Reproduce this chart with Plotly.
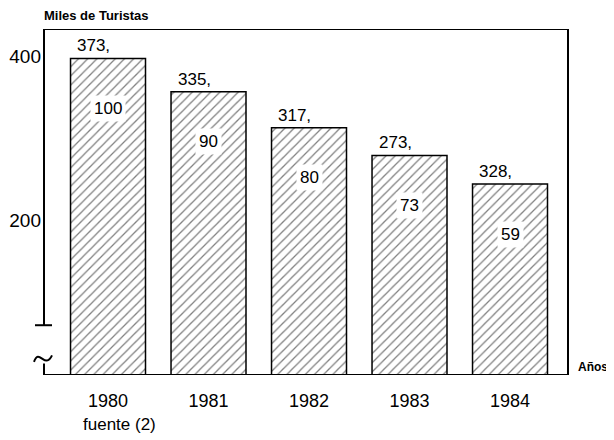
import plotly.graph_objects as go

# data
years = ["1980", "1981", "1982", "1983", "1984"]
bar_values = [398, 357, 313, 279, 244]          # miles de turistas (bar height on the axis)
top_labels = ["373,", "335,", "317,", "273,", "328,"]
index_labels = ["100", "90", "80", "73", "59"]
y_ticks = [200, 400]

SANS = "Liberation Sans, Arial, sans-serif"
Y_MIN, Y_MAX = 10, 434
PLOT_W = 524
PLOT_H = 346
# the html body adds an 8px margin, so the figure is drawn 8px smaller and shifted
BODY = 8


def px_to_paper(px):
    return (px - 44) / PLOT_W


fig = go.Figure()
fig.add_trace(
    go.Bar(
        x=years,
        y=[v - Y_MIN for v in bar_values],
        base=Y_MIN,
        width=0.746,
        marker=dict(
            color="white",
            line=dict(color="black", width=1.5),
            pattern=dict(shape="/", fgcolor="black", bgcolor="white", size=6.5, solidity=0.2),
        ),
        hoverinfo="skip",
    )
)

annotations = []
for i, (value, top, idx) in enumerate(zip(bar_values, top_labels, index_labels)):
    annotations.append(
        dict(x=i, y=value, xref="x", yref="y", text=top, showarrow=False, xanchor="left",
             yanchor="bottom", xshift=-33, yshift=1, font=dict(family=SANS, size=17, color="black"))
    )
    annotations.append(
        dict(x=i, y=value, xref="x", yref="y", text=idx, showarrow=False, xanchor="center",
             yanchor="middle", yshift=-50, bgcolor="white", borderpad=3,
             font=dict(family=SANS, size=17, color="black"))
    )

annotations += [
    dict(xref="paper", yref="paper", x=px_to_paper(42), y=1 + 13 / PLOT_H, text="<b>Miles de Turistas</b>",
         showarrow=False, xanchor="left", yanchor="middle", font=dict(family=SANS, size=13, color="black")),
    dict(xref="paper", yref="paper", x=px_to_paper(576), y=8 / PLOT_H, text="<b>Años</b>",
         showarrow=False, xanchor="left", yanchor="middle", font=dict(family=SANS, size=12, color="black")),
    dict(x=0, xref="x", yref="paper", y=-49 / PLOT_H, text="fuente (2)", showarrow=False,
         xanchor="left", yanchor="middle", xshift=-27, font=dict(family=SANS, size=17, color="black")),
]

line = dict(color="black", width=2)
shapes = [
    # frame: top, right, bottom
    dict(type="line", xref="paper", yref="y", x0=0, x1=1, y0=Y_MAX, y1=Y_MAX, line=line),
    dict(type="line", xref="paper", yref="y", x0=1, x1=1, y0=Y_MIN, y1=Y_MAX, line=line),
    dict(type="line", xref="paper", yref="y", x0=0, x1=1, y0=Y_MIN, y1=Y_MIN, line=line),
    # broken left axis
    dict(type="line", xref="paper", yref="y", x0=0, x1=0, y0=71, y1=Y_MAX, line=line),
    dict(type="line", xref="paper", yref="y", x0=px_to_paper(35), x1=px_to_paper(52), y0=71, y1=71, line=line),
    dict(type="line", xref="paper", yref="y", x0=0, x1=0, y0=Y_MIN, y1=24, line=line),
    dict(type="path", xref="paper", yref="y",
         path=f"M {px_to_paper(34)},26 C {px_to_paper(39)},44 {px_to_paper(45)},16 {px_to_paper(52)},34",
         line=line),
]

fig.update_layout(
    width=614 - BODY,
    height=440 - BODY,
    margin=dict(l=44 - BODY, r=614 - BODY - (44 - BODY) - PLOT_W, t=29 - BODY,
                b=440 - BODY - (29 - BODY) - PLOT_H, autoexpand=False),
    paper_bgcolor="white",
    plot_bgcolor="white",
    showlegend=False,
    annotations=annotations,
    shapes=shapes,
    xaxis=dict(
        type="category",
        range=[-0.637, 4.577],
        automargin=False,
        showgrid=False,
        zeroline=False,
        showline=False,
        ticks="outside",
        ticklen=9,
        tickcolor="rgba(0,0,0,0)",
        tickfont=dict(family=SANS, size=18, color="black"),
    ),
    yaxis=dict(
        range=[Y_MIN, Y_MAX],
        tickvals=y_ticks,
        ticktext=[str(t) for t in y_ticks],
        automargin=False,
        showgrid=False,
        zeroline=False,
        showline=False,
        ticks="",
        ticklabelstandoff=2,
        tickfont=dict(family=SANS, size=19, color="black"),
    ),
)

fig.write_html("out.html")
